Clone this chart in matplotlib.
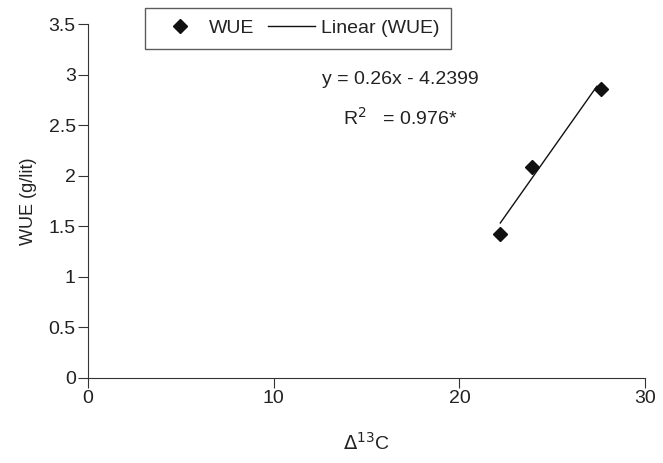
import matplotlib.pyplot as plt
import numpy as np

plt.rcParams['font.family'] = ['Liberation Sans', 'DejaVu Sans']

# WUE vs carbon isotope discrimination
delta13c = [22.2, 23.9, 27.6]
wue = [1.42, 2.09, 2.86]

# fitted trend line (from the chart's equation)
slope = 0.26
intercept = -4.2399
fit_x = [22.2, 27.4]

fig = plt.figure(figsize=(6.63, 4.63), dpi=100)
ax = fig.add_axes([0.133, 0.184, 0.840, 0.764])

ax.plot(delta13c, wue, linestyle='none', marker='D', markersize=7.5,
        color='#111111', label='WUE')
xfit = np.array(fit_x)
ax.plot(xfit, slope * xfit + intercept, color='#111111', linewidth=1,
        label='Linear (WUE)')

ax.set_xlim(0, 30)
ax.set_ylim(0, 3.5)
ax.set_xticks([0, 10, 20, 30])
ax.set_yticks([0, 0.5, 1, 1.5, 2, 2.5, 3, 3.5])
ax.set_yticklabels(['0', '0.5', '1', '1.5', '2', '2.5', '3', '3.5'])
ax.spines['top'].set_visible(False)
ax.spines['right'].set_visible(False)
for s in ['left', 'bottom']:
    ax.spines[s].set_color('#333333')
ax.tick_params(direction='out', length=7, labelsize=14, colors='#333333',
               labelcolor='#222222', pad=2)

ax.set_xlabel(r'$\Delta^{13}$C', fontsize=14, labelpad=18, color='#222222')
ax.set_ylabel('WUE (g/lit)', fontsize=13, labelpad=8, color='#222222')

ax.text(0.56, 0.842, 'y = 0.26x - 4.2399', transform=ax.transAxes,
        ha='center', va='center', fontsize=14, color='#222222')
ax.text(0.56, 0.734, r'R$^2$   = 0.976*', transform=ax.transAxes,
        ha='center', va='center', fontsize=14, color='#222222')

leg = ax.legend(loc='upper left', bbox_to_anchor=(0.219, 0.983),
                bbox_transform=fig.transFigure, borderaxespad=0, ncol=2,
                fontsize=14, frameon=True, fancybox=False, edgecolor='#333333',
                handlelength=2.4, columnspacing=0.7, borderpad=0.6,
                handletextpad=0.3)
leg.get_frame().set_linewidth(1)
for t in leg.get_texts():
    t.set_color('#222222')

plt.savefig('out.png', dpi=100)
